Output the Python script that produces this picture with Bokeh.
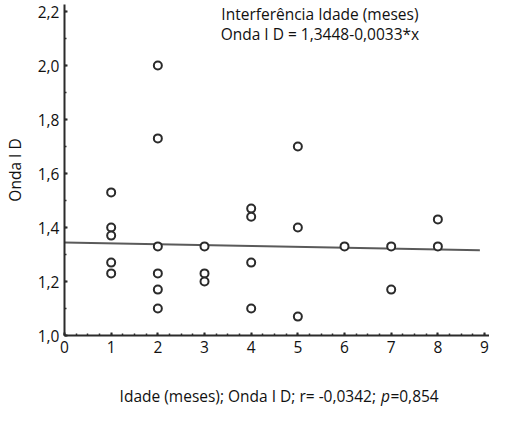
from bokeh.plotting import figure
from bokeh.layouts import column
from bokeh.models import FixedTicker, Label, Range1d
from bokeh.core.properties import value
from bokeh.embed import file_html
from bokeh.resources import INLINE

# ---- data ----
idade = [1, 1, 1, 1, 1,
         2, 2, 2, 2, 2, 2,
         3, 3, 3,
         4, 4, 4, 4,
         5, 5, 5,
         6,
         7, 7,
         8, 8]
onda = [1.53, 1.40, 1.37, 1.27, 1.23,
        2.00, 1.73, 1.33, 1.23, 1.17, 1.10,
        1.33, 1.23, 1.20,
        1.47, 1.44, 1.27, 1.10,
        1.70, 1.40, 1.07,
        1.33,
        1.33, 1.17,
        1.43, 1.33]
intercept = 1.3448
slope = -0.0033
fit_x = [0.0, 8.9]
fit_y = [intercept + slope * v for v in fit_x]

x_ticks = [0, 1, 2, 3, 4, 5, 6, 7, 8, 9]
y_ticks = [1.0, 1.2, 1.4, 1.6, 1.8, 2.0, 2.2]
y_tick_labels = ["1,0", "1,2", "1,4", "1,6", "1,8", "2,0", "2,2"]

title_lines = ["Interferência Idade (meses)", "Onda I D = 1,3448-0,0033*x"]
y_label = "Onda I D"
bottom_a = "Idade (meses); Onda I D; r= -0,0342; "
bottom_p = "p"
bottom_b = "=0,854"

FONT = "Open Sans"
INK = "#2b2b2b"
TXT = "#111111"
FS = "15.5px"

UNIT = 47.33          # px per x unit
X0 = 66               # page x of x=0
YUNIT = 270.0         # px per y unit
YTOP = 2.2 + 7 / YUNIT

p = figure(width=489, height=370, output_backend="svg", toolbar_location=None,
           x_range=Range1d(0, (497 - X0) / UNIT), y_range=Range1d(1.0, YTOP))
p.min_border_left = X0 - 8
p.min_border_right = 0
p.min_border_top = 4
p.min_border_bottom = 35
p.outline_line_color = None
p.xgrid.visible = False
p.ygrid.visible = False

for ax in (p.xaxis[0], p.yaxis[0]):
    ax.axis_line_color = INK
    ax.axis_line_width = 2
    ax.major_tick_line_color = INK
    ax.minor_tick_line_color = INK
    ax.major_tick_line_width = 2
    ax.minor_tick_line_width = 1.5
    ax.major_tick_in = 3
    ax.major_tick_out = 0
    ax.minor_tick_in = 2
    ax.minor_tick_out = 0
    ax.major_label_text_font = FONT
    ax.major_label_text_font_size = FS
    ax.major_label_text_color = TXT

p.xaxis[0].ticker = FixedTicker(ticks=x_ticks,
                                minor_ticks=[i / 4 for i in range(0, 37)])
p.xaxis[0].major_label_standoff = 5
p.yaxis[0].ticker = FixedTicker(ticks=y_ticks,
                                minor_ticks=[1.0 + i * 0.1 for i in range(0, 13)])
p.yaxis[0].major_label_overrides = {t: l for t, l in zip(y_ticks, y_tick_labels)}
p.yaxis[0].major_label_standoff = 5
p.yaxis[0].axis_label = y_label
p.yaxis[0].axis_label_text_font = FONT
p.yaxis[0].axis_label_text_font_size = FS
p.yaxis[0].axis_label_text_font_style = "normal"
p.yaxis[0].axis_label_text_color = TXT
p.yaxis[0].axis_label_standoff = 9

p.line(fit_x, fit_y, line_color="#5a5a5a", line_width=2)
p.scatter(idade, onda, marker="circle", size=8, fill_color="white",
          line_color=INK, line_width=2)

for i, t in enumerate(title_lines):
    p.add_layout(Label(x=(325 - X0) / UNIT, y=YTOP - (9 + 20 * i) / YUNIT, text=t,
                       text_align="center", text_baseline="middle",
                       text_font=FONT, text_font_size=FS, text_color=TXT))

# ---- strip below with the statistics line ----
p2 = figure(width=489, height=36, output_backend="svg", toolbar_location=None,
            x_range=p.x_range, y_range=Range1d(0, 1))
p2.min_border_left = X0 - 8
p2.min_border_right = 0
p2.min_border_top = 0
p2.min_border_bottom = 0
p2.outline_line_color = None
p2.axis.visible = False
p2.grid.visible = False

yb = 1 - 25 / 36
xa = (386 - X0) / UNIT
xpp = (387 - X0) / UNIT
xb = (396.5 - X0) / UNIT
p2.text(x=[xa], y=[yb], text=[bottom_a], text_align="right",
        text_baseline="middle", text_font=value(FONT), text_font_size=FS,
        text_color=TXT)
p2.text(x=[xpp], y=[yb], text=[bottom_p], text_align="left",
        text_baseline="middle", text_font=value(FONT), text_font_style="italic",
        text_font_size=FS, text_color=TXT)
p2.text(x=[xb], y=[yb], text=[bottom_b], text_align="left",
        text_baseline="middle", text_font=value(FONT), text_font_size=FS,
        text_color=TXT)

layout = column(p, p2, spacing=0)
open("out.html", "w").write(file_html(layout, INLINE))
